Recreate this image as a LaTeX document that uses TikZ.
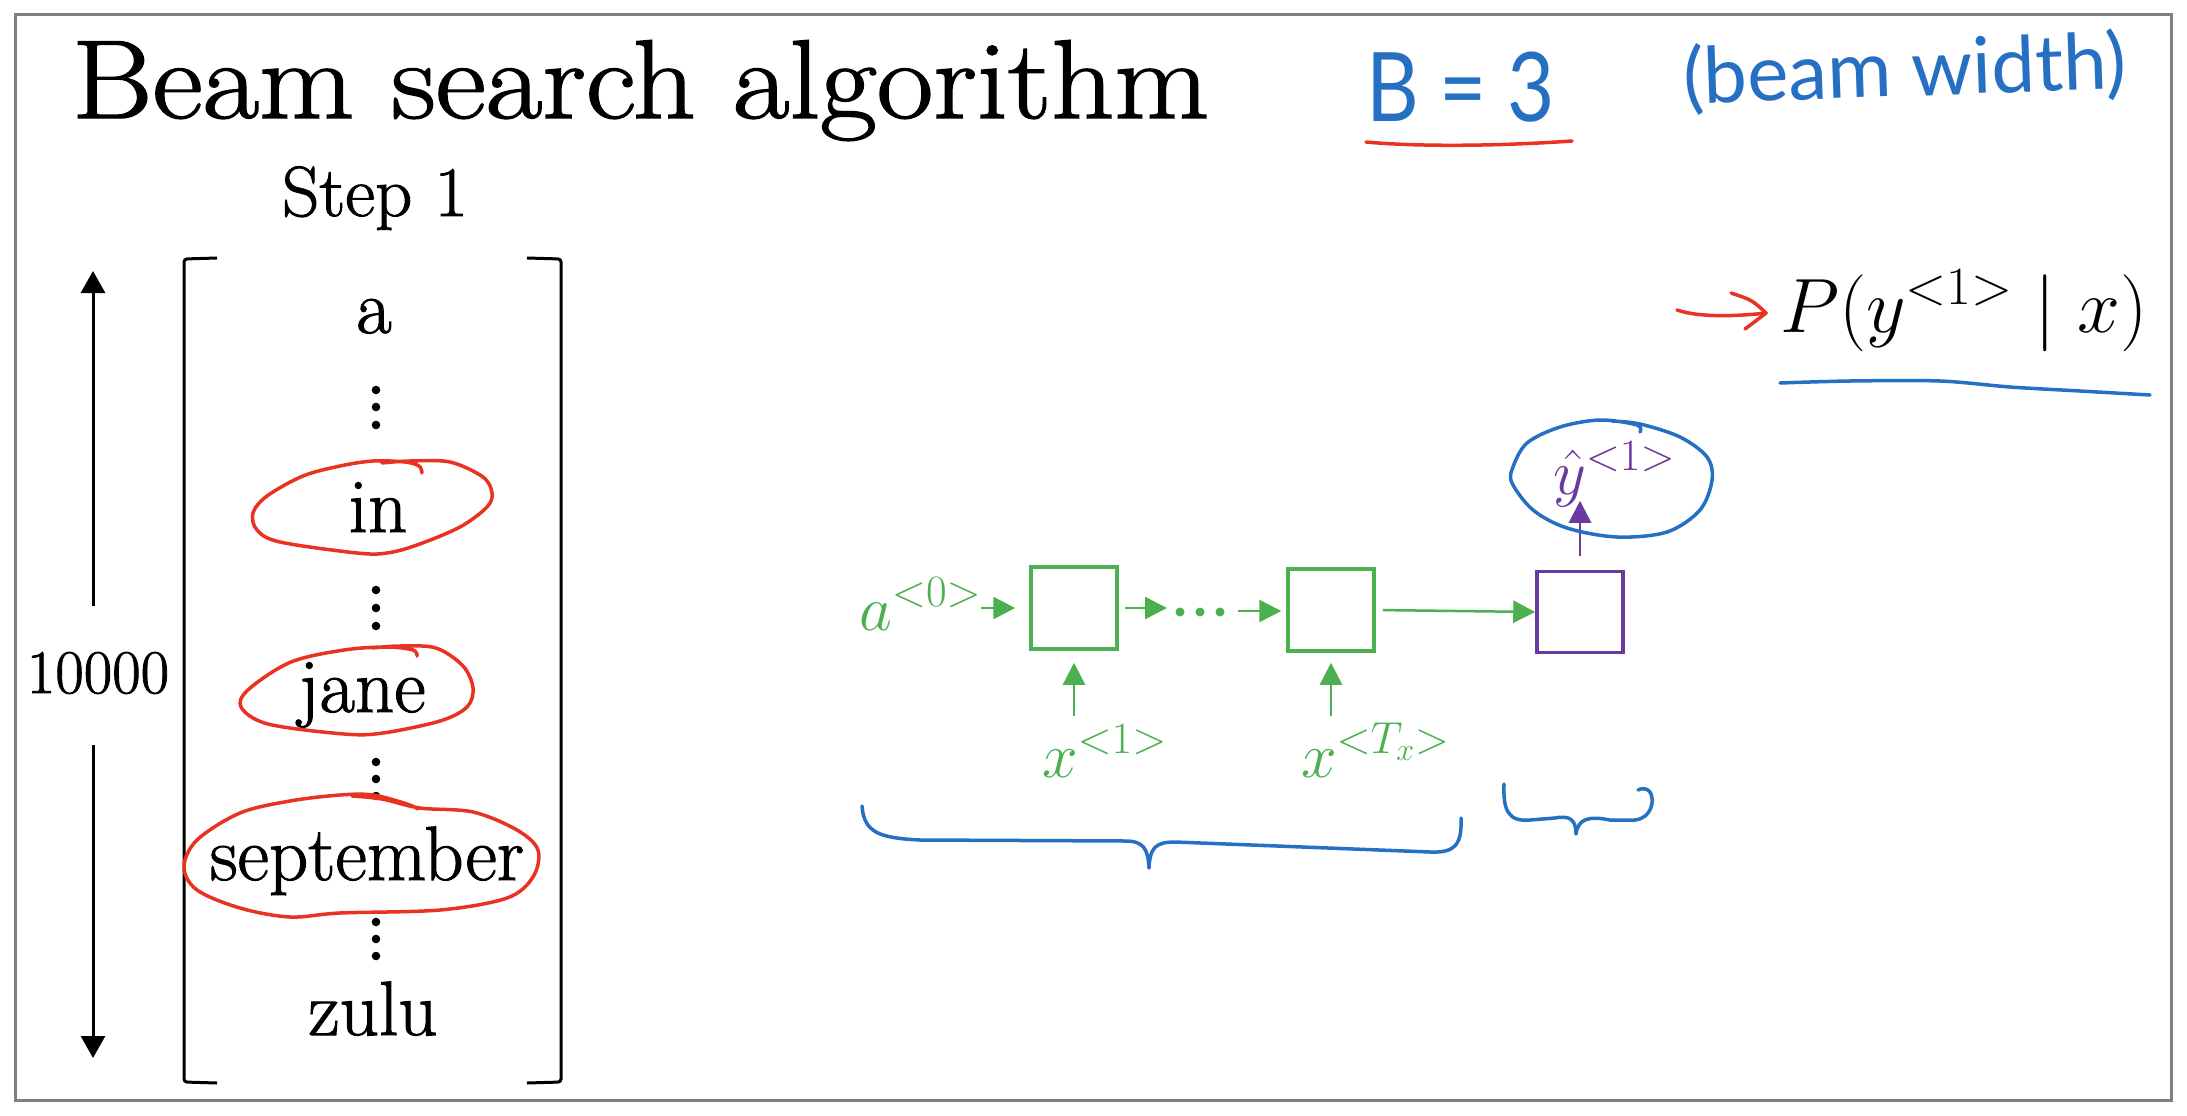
\RequirePackage{fix-cm}
\documentclass[tikz,border=0pt]{standalone}
\usepackage{fontspec}
\usetikzlibrary{arrows.meta,calc}
\newfontfamily\hand{Lato}
\newfontfamily\heavy{Latin Modern Roman}[FakeBold=1.3]
\definecolor{gcol}{RGB}{76,176,80}
\definecolor{pcol}{RGB}{106,58,160}
\definecolor{hblue}{RGB}{38,112,196}
\definecolor{hred}{RGB}{234,50,35}
\definecolor{framegray}{RGB}{128,128,128}
\newcommand\myfs[1]{\fontsize{#1}{#1}\selectfont}
\begin{document}
\begin{tikzpicture}[x=1pt,y=-1pt,
  txt/.style={inner sep=0pt, outer sep=0pt, anchor=base},
  word/.style={txt, font=\heavy\myfs{77}},
  gbox/.style={draw=gcol, line width=3.5pt, minimum width=86pt, minimum height=82pt, inner sep=0pt},
  pbox/.style={draw=pcol, line width=3.5pt, minimum width=86pt, minimum height=81pt, inner sep=0pt},
  garrow/.style={draw=gcol, line width=2.5pt, -{Triangle[length=22pt,width=22pt]}},
  parrow/.style={draw=pcol, line width=2.5pt, -{Triangle[length=22pt,width=22pt]}},
  karrow/.style={draw=black, line width=3pt, -{Triangle[length=22pt,width=24pt]}},
  redpen/.style={draw=hred, line width=3.5pt, line cap=round, line join=round},
  bluepen/.style={draw=hblue, line width=3.5pt, line cap=round, line join=round}
]
\useasboundingbox (0,0) rectangle (2187,1116);
\fill[white] (0,0) rectangle (2187,1116);
\draw[framegray, line width=3pt] (15,15) rectangle (2171,1100);

% Title
\node[txt, anchor=base west, font=\heavy\myfs{112}] (title) at (72,118) {\scalebox{1.1}[1]{Beam search algorithm}};
\node[txt, font=\heavy\myfs{71}] (step) at (375,216) {\scalebox{1.03}[1]{Step 1}};

% Vocabulary vector
\draw[line width=3pt, rounded corners=3pt] (217,258) -- (184,259) -- (184,1082) -- (217,1083);
\draw[line width=3pt, rounded corners=3pt] (527,258) -- (561,259) -- (561,1082) -- (527,1083);

\node[word] (wa) at (374,333) {a};
\node[word] (win) at (378,532) {in};
\node[word] (wjane) at (362,712) {jane};
\node[word] (wsep) at (367,880) {september};
\node[word] (wzulu) at (373,1035) {zulu};

\foreach \y in {390,407,425, 590,608,626, 762,779,796, 922,939,956}
  \fill (376,\y) circle (4.3pt);

% 10000 with double arrow
\node[txt, font=\heavy\myfs{62}] (num) at (98,693) {10000};
\coordinate (atop) at (93,271);
\coordinate (abot) at (93,1058);
\draw[karrow] (93,606) -- (atop);
\draw[karrow] (93,745) -- (abot);

% red hand-drawn ellipses
\draw[redpen] plot[smooth, tension=0.55] coordinates {(422,473)(419,466)(405,462)(373,461)(340,466)(303,476)(267,496)(253,513)(257,530)(280,542)(357,553)(387,553)(417,545)(460,527)(487,507)(492,493)(483,477)(450,462)(410,461)(382,463)};
\draw[redpen] plot[smooth, tension=0.55] coordinates {(417,656)(413,650)(387,647)(344,650)(291,662)(249,689)(241,707)(268,724)(344,734)(383,733)(440,721)(467,707)(473,688)(463,666)(436,648)(400,646)(372,648)};
\draw[redpen] plot[smooth, tension=0.55] coordinates {(418,809)(407,804)(373,795)(340,795)(290,801)(240,813)(197,840)(184,867)(197,890)(240,908)(290,917)(340,913)(440,910)(507,898)(533,877)(538,850)(517,830)(473,812)(420,808)(382,799)(352,796)};

% B = 3 (beam width)
\node[txt, anchor=base west, text=hblue, font=\hand\myfs{96}] (beq) at (1366,121) {\scalebox{0.85}[1]{B = 3}};
\draw[redpen] (1366,142) .. controls (1420,147) and (1500,146) .. (1572,141);
\node[txt, anchor=base west, text=hblue, font=\hand\myfs{78}, rotate=2] (bw) at (1684,104) {(beam width)};

% P(y|x)
\node[txt, anchor=base west, font=\myfs{77}] (prob) at (1780,332) {$P(y^{<1>} \mid x)$};
\coordinate (rstart) at (1677,310);
\draw[redpen] (rstart) .. controls (1700,318) and (1740,316) .. (1766,313);
\draw[redpen] (1731,293) .. controls (1752,300) .. (1766,313) .. controls (1757,320) .. (1745,329);
\draw[bluepen] plot[smooth, tension=0.5] coordinates {(1780,383)(1850,381)(1940,381)(2010,387)(2080,391)(2150,395)};

% RNN
\node[gbox] (b1) at (1074,608) {};
\node[gbox] (b2) at (1331,610) {};
\node[pbox] (b3) at (1580,612) {};

\node[txt, anchor=base west, text=gcol, font=\myfs{64}] (a0) at (859,630) {$a^{<0>}$};
\draw[garrow, shorten >=14pt] (a0.east |- b1.west) -- (b1.west);

\coordinate (dotsL) at (1167,608);
\coordinate (dotsR) at (1238,611);
\foreach \x in {1180,1200,1220} \fill[gcol] (\x,612) circle (4.5pt);
\draw[garrow, shorten <=6pt] (b1.east) -- (dotsL);
\draw[garrow, shorten >=5pt] (dotsR) -- (b2.west |- dotsR);
\draw[garrow, shorten <=7pt] (b2.east) -- (b3.west);

\node[txt, anchor=base west, text=gcol, font=\myfs{64}] (x1) at (1042,777) {$x^{<1>}$};
\node[txt, anchor=base west, text=gcol, font=\myfs{64}] (xT) at (1301,777) {$x^{<T_x>}$};
\draw[garrow, shorten >=12pt] ($(b1.south)+(0,65)$) -- (b1.south);
\draw[garrow, shorten >=10pt] ($(b2.south)+(0,63)$) -- (b2.south);

\node[txt, anchor=base west, text=pcol, font=\myfs{64}] (yhat) at (1553,494) {$\hat{y}^{<1>}$};
\draw[parrow, shorten <=14pt] (b3.north) -- ($(b3.north)+(0,-69)$);

% blue circle around y-hat
\draw[bluepen] plot[smooth, tension=0.55] coordinates {(1640,432)(1637,425)(1600,420)(1560,427)(1527,443)(1513,467)(1512,483)(1533,510)(1567,528)(1617,537)(1667,532)(1700,510)(1712,480)(1707,457)(1680,437)(1640,424)(1612,421)};

% braces
\draw[bluepen] (862,806) .. controls (864,833) and (880,838) .. (920,840) -- (1125,841) .. controls (1143,841) and (1148,848) .. (1149,868) .. controls (1150,848) and (1155,842) .. (1175,842) -- (1430,852) .. controls (1455,853) and (1462,845) .. (1461,818);
\draw[bluepen] (1504,784) .. controls (1503,810) and (1508,822) .. (1530,820) -- (1555,818) .. controls (1570,815) and (1576,820) .. (1576,834) .. controls (1578,818) and (1590,816) .. (1610,820) -- (1635,820) .. controls (1652,818) and (1655,800) .. (1650,792) .. controls (1647,788) and (1642,788) .. (1638,790);
\end{tikzpicture}
\end{document}
